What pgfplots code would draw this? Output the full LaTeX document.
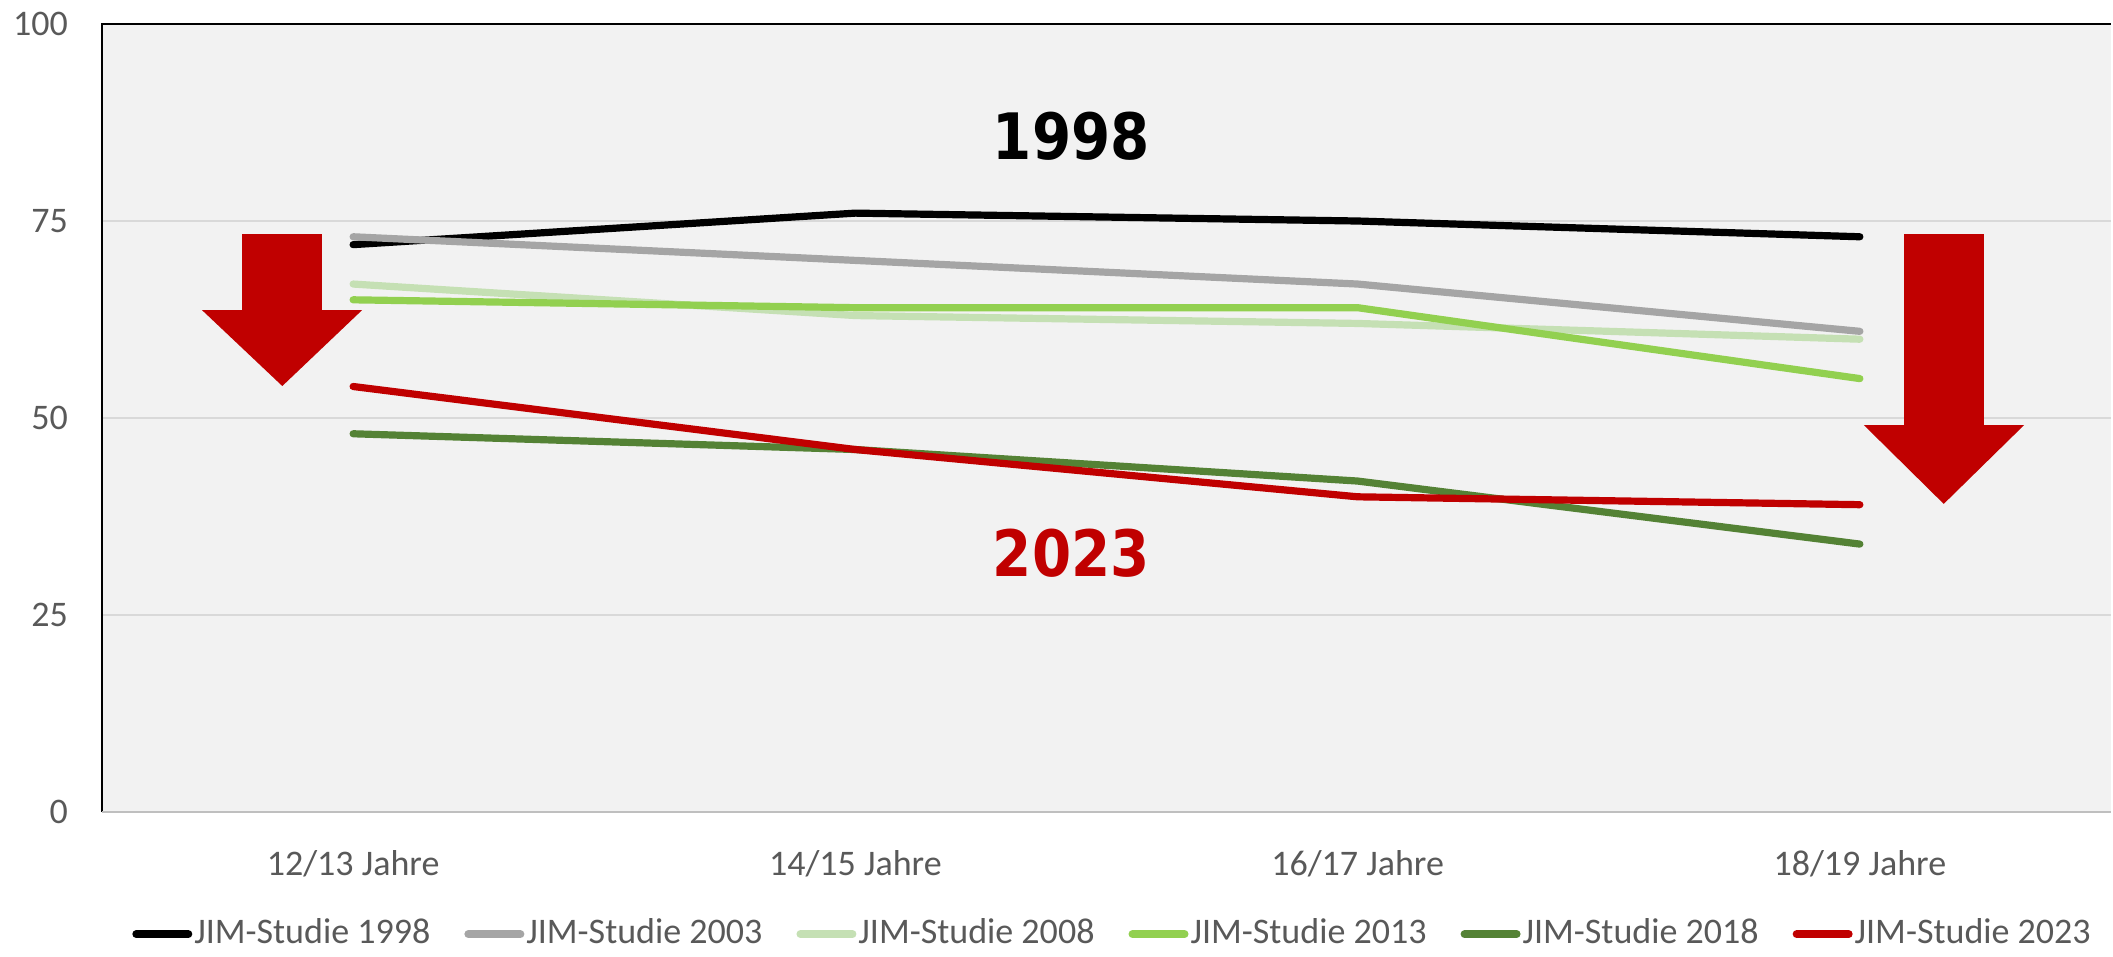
\documentclass[border=0pt]{standalone}
\usepackage{fontspec}
\setmainfont{Carlito}
\newfontfamily\bigfont{DejaVu Sans}
\usepackage{pgfplots}
\pgfplotsset{compat=1.18}
\definecolor{cBG}{HTML}{F2F2F2}
\definecolor{cGrid}{HTML}{D9D9D9}
\definecolor{cTxt}{HTML}{595959}
\definecolor{cGray}{HTML}{A5A5A5}
\definecolor{cLGreen}{HTML}{C5E0B4}
\definecolor{cGreen}{HTML}{92D050}
\definecolor{cDGreen}{HTML}{548235}
\definecolor{cRed}{HTML}{C00000}
\definecolor{cAxis}{HTML}{BFBFBF}
\begin{document}
\begin{tikzpicture}
\begin{axis}[
  scale only axis,
  width=502.25pt, height=197pt,
  xmin=-0.5, xmax=3.5, ymin=0, ymax=100,
  xtick={0,1,2,3},
  xticklabels={12/13 Jahre,14/15 Jahre,16/17 Jahre,18/19 Jahre},
  ytick={0,25,50,75,100},
  major tick length=0pt,
  ymajorgrids, grid style={cGrid, line width=0.45pt},
  axis line style={draw=none},
  axis background/.style={fill=cBG},
  tick label style={font=\fontsize{9}{10}\selectfont, text=cTxt},
  /pgf/number format/assume math mode=true,
  yticklabel style={xshift=-5pt},
  xticklabel style={yshift=-6pt},
  legend columns=6,
  legend style={at={(0.503,-0.155)}, anchor=center, draw=none, fill=none,
    font=\fontsize{9}{10}\selectfont, text=cTxt,
    /tikz/every even column/.append style={column sep=8pt},
    nodes={inner xsep=0.5pt}},
  legend image code/.code={\draw[#1, line width=2pt, line cap=round] (0pt,0pt) -- (13pt,0pt);},
  every axis plot/.append style={line width=1.8pt, line cap=round, line join=round},
  clip=false,
]
\fill[cRed] (axis cs:-0.221,73.35) -- (axis cs:-0.062,73.35) -- (axis cs:-0.062,63.7) -- (axis cs:0.018,63.7) -- (axis cs:-0.141,54.06) -- (axis cs:-0.301,63.7) -- (axis cs:-0.221,63.7) -- cycle;
\fill[cRed] (axis cs:3.088,73.35) -- (axis cs:3.247,73.35) -- (axis cs:3.247,49.1) -- (axis cs:3.327,49.1) -- (axis cs:3.167,39.1) -- (axis cs:3.008,49.1) -- (axis cs:3.088,49.1) -- cycle;
\addplot[black] coordinates {(0,72) (1,76) (2,75) (3,73)};
\addlegendentry{JIM-Studie 1998}
\addplot[cGray] coordinates {(0,73) (1,70) (2,67) (3,61)};
\addlegendentry{JIM-Studie 2003}
\addplot[cLGreen] coordinates {(0,67) (1,63) (2,62) (3,60)};
\addlegendentry{JIM-Studie 2008}
\addplot[cGreen] coordinates {(0,65) (1,64) (2,64) (3,55)};
\addlegendentry{JIM-Studie 2013}
\addplot[cDGreen] coordinates {(0,48) (1,46) (2,42) (3,34)};
\addlegendentry{JIM-Studie 2018}
\addplot[cRed] coordinates {(0,54) (1,46) (2,40) (3,39)};
\addlegendentry{JIM-Studie 2023}
\node[font=\bigfont\bfseries\fontsize{16}{18}\selectfont, text=black] at (axis cs:1.43,85.8) {\scalebox{0.88}[1]{1998}};
\node[font=\bigfont\bfseries\fontsize{16}{18}\selectfont, text=cRed] at (axis cs:1.43,32.9) {\scalebox{0.88}[1]{2023}};
\draw[black, line width=0.6pt] (rel axis cs:0,0) -- (rel axis cs:0,1) -- (rel axis cs:1,1);
\draw[cAxis, line width=0.7pt] (rel axis cs:0,0) -- (rel axis cs:1,0);
\end{axis}
\pgfresetboundingbox
\path ([shift={(-25.5pt,-36pt)}]current axis.south west) rectangle ([shift={(502.75pt,203pt)}]current axis.south west);
\end{tikzpicture}
\end{document}
